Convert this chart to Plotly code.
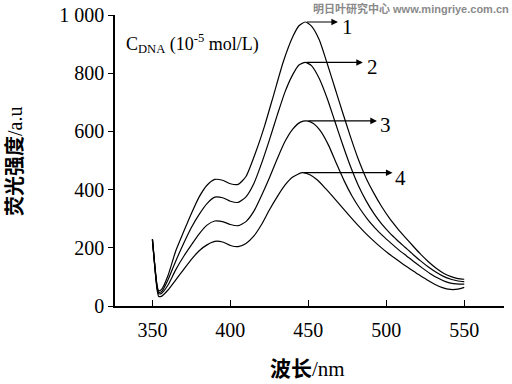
import plotly.graph_objects as go

# ---- data ----
wl1 = [350, 351, 352, 353, 354, 356, 360, 365, 370, 375, 380, 385, 390, 395, 400, 405, 410, 416, 422, 428, 434, 440, 444, 448, 452, 457, 462, 467, 472, 477, 482, 487, 492, 497, 502, 507, 512, 517, 522, 527, 532, 537, 542, 546, 550]
c1 = [230, 170, 115, 70, 52, 58, 105, 190, 255, 318, 375, 415, 435, 432, 420, 418, 445, 525, 620, 730, 840, 925, 963, 976, 962, 915, 835, 750, 665, 582, 505, 440, 388, 342, 302, 268, 237, 207, 178, 152, 130, 112, 100, 94, 92]

wl2 = [350, 351, 352, 353, 354, 356, 360, 365, 370, 375, 380, 385, 390, 395, 400, 405, 410, 415, 420, 425, 430, 435, 440, 444, 448, 452, 457, 462, 467, 472, 477, 482, 487, 492, 497, 502, 507, 512, 517, 522, 527, 532, 537, 542, 546, 550]
c2 = [230, 170, 112, 66, 47, 50, 90, 155, 215, 270, 315, 352, 374, 372, 360, 356, 375, 420, 490, 570, 655, 735, 795, 828, 837, 826, 782, 715, 635, 555, 480, 415, 362, 318, 282, 252, 226, 202, 178, 155, 134, 116, 101, 91, 86, 84]

wl3 = [350, 351, 352, 353, 354, 356, 360, 365, 370, 375, 380, 385, 390, 395, 400, 405, 410, 415, 420, 425, 430, 435, 440, 445, 449, 453, 458, 463, 468, 473, 478, 483, 488, 493, 498, 503, 508, 513, 518, 523, 528, 533, 538, 543, 547, 550]
c3 = [228, 168, 110, 62, 42, 44, 72, 125, 170, 210, 248, 278, 292, 290, 280, 276, 290, 325, 380, 440, 505, 565, 608, 632, 636, 628, 600, 552, 490, 430, 378, 335, 298, 267, 240, 216, 193, 172, 151, 131, 112, 96, 84, 77, 75, 75]

wl4 = [350, 351, 352, 353, 354, 356, 360, 365, 370, 375, 380, 385, 390, 395, 400, 405, 410, 415, 420, 425, 430, 435, 440, 446, 451, 456, 461, 466, 471, 476, 481, 486, 491, 496, 501, 506, 511, 516, 521, 526, 531, 536, 541, 546, 550]
c4 = [226, 165, 105, 55, 33, 34, 55, 90, 125, 160, 190, 210, 222, 220, 208, 204, 215, 240, 280, 330, 375, 415, 443, 458, 451, 432, 404, 374, 343, 312, 282, 254, 228, 204, 182, 162, 143, 125, 107, 90, 75, 63, 57, 58, 64]

series = [(wl1, c1), (wl2, c2), (wl3, c3), (wl4, c4)]
curve_labels = ["1", "2", "3", "4"]
arrow_start_x = [448, 448, 449, 446]
arrow_y = [976, 837, 636, 458]
arrow_end_x = [469, 485, 494, 504]
label_x = [475, 491, 499.5, 509]
label_y = [960, 822, 622, 440]

x_ticks = [350, 400, 450, 500, 550, 575]
x_ticktext = ["350", "400", "450", "500", "550", ""]
y_ticks = [0, 200, 400, 600, 800, 1000]
y_ticktext = ["0", "200", "400", "600", "800", "1 000"]

SERIF = "Liberation Serif, Noto Sans CJK SC, serif"

W, H = 512, 384
L, R, T, B = 115, 8, 15, 78
pw, ph = W - L - R, H - T - B


def px(xp, yp):
    """screen pixel -> paper coords"""
    return (xp - L) / pw, (H - B - yp) / ph


fig = go.Figure()
for wl, c in series:
    fig.add_trace(go.Scatter(x=wl, y=c, mode="lines",
                             line=dict(color="black", width=1.2, shape="spline", smoothing=0.6),
                             showlegend=False, hoverinfo="skip"))

for i in range(4):
    fig.add_annotation(x=arrow_end_x[i], y=arrow_y[i], ax=arrow_start_x[i], ay=arrow_y[i],
                       xref="x", yref="y", axref="x", ayref="y", text="", showarrow=True,
                       arrowhead=2, arrowsize=1.1, arrowwidth=1.2, arrowcolor="black")
    fig.add_annotation(x=label_x[i], y=label_y[i], xref="x", yref="y", text=curve_labels[i],
                       showarrow=False, xanchor="center", yanchor="middle",
                       font=dict(family=SERIF, size=21, color="black"))

x0, y0 = px(124, 43)
fig.add_annotation(x=x0, y=y0, xref="paper", yref="paper",
                   text="C<sub>DNA</sub> (10<sup>-5</sup> mol/L)",
                   showarrow=False, xanchor="left", yanchor="middle",
                   font=dict(family=SERIF, size=18, color="black"))

x0, y0 = px(307, 369)
fig.add_annotation(x=x0, y=y0, text="<b>波长</b>/nm", showarrow=False, xref="paper", yref="paper",
                   xanchor="center", yanchor="middle",
                   font=dict(family=SERIF, size=21, color="black"))
x0, y0 = px(15, 162)
fig.add_annotation(x=x0, y=y0, text="<b>荧光强度</b>/a.u", showarrow=False, xref="paper", yref="paper",
                   xanchor="center", yanchor="middle",
                   textangle=-90, font=dict(family=SERIF, size=20, color="black"))
x0, y0 = px(411, 8)
fig.add_annotation(x=x0, y=y0, text="<b>明日叶研究中心 www.mingriye.com.cn</b>", showarrow=False,
                   xref="paper", yref="paper", xanchor="center", yanchor="middle",
                   font=dict(family="Liberation Sans, Noto Sans CJK SC, sans-serif", size=11, color="#8a8a8a"))

fig.update_layout(
    template="none",
    width=W, height=H, margin=dict(l=L, r=R, t=T, b=B, pad=0, autoexpand=False),
    paper_bgcolor="white", plot_bgcolor="white",
    xaxis=dict(range=[326, 575.5], tickvals=x_ticks, ticktext=x_ticktext, ticks="inside", ticklen=6,
               tickwidth=1.2, tickcolor="black", showline=True, linecolor="black", linewidth=1.5,
               showgrid=False, zeroline=False, ticklabelstandoff=5, automargin=False,
               tickfont=dict(family=SERIF, size=20, color="black")),
    yaxis=dict(range=[0, 1000], tickvals=y_ticks, ticktext=y_ticktext, ticks="outside", ticklen=5,
               tickwidth=1.2, tickcolor="black", showline=True, linecolor="black", linewidth=1.5,
               showgrid=False, zeroline=False, automargin=False,
               tickfont=dict(family=SERIF, size=20, color="black")),
)

fig.write_html("out.html", config={"displayModeBar": False},
               post_script="document.body.style.margin='0px';")
